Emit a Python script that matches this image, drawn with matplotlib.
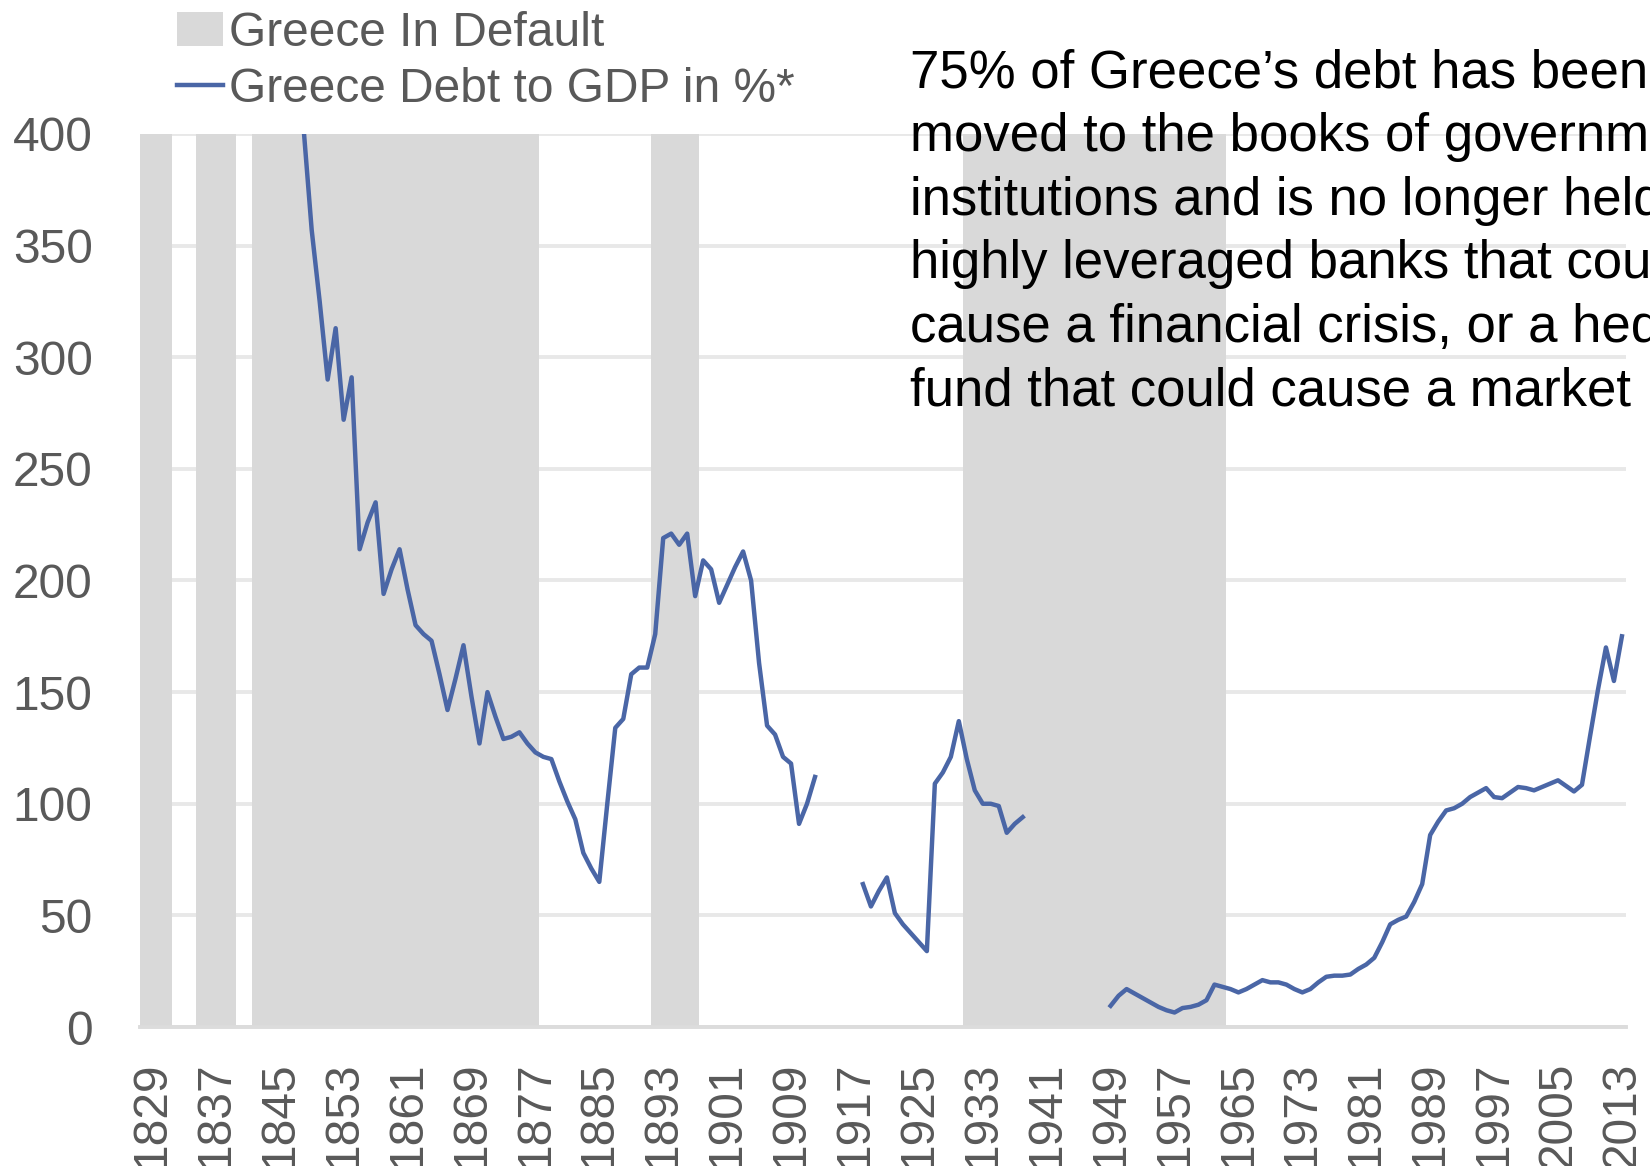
import numpy as np
from matplotlib import pyplot as plt
from matplotlib.patches import Patch
from matplotlib.lines import Line2D

plt.rcParams['font.family'] = ['Liberation Sans', 'DejaVu Sans']

# default periods (first and last year of each)
default_start = [1828, 1835, 1842, 1892, 1931]
default_end = [1831, 1839, 1877, 1897, 1963]

# debt to GDP in %, three unbroken stretches
years_1 = list(range(1848, 1913))
debt_1 = [402, 357, 325, 290, 313, 272, 291, 214, 226, 235,
          194, 205, 214, 196, 180, 176, 173, 158, 142, 156,
          171, 148, 127, 150, 139, 129, 130, 132, 127, 123,
          121, 120, 110, 101, 93, 78, 71, 65, 100, 134,
          138, 158, 161, 161, 176, 219, 221, 216, 221, 193,
          209, 205, 190, 198, 206, 213, 200, 163, 135, 131,
          121, 118, 91, 100, 112]

years_2 = list(range(1918, 1939))
debt_2 = [64, 54, 61, 67, 51, 46, 42, 38, 34, 109,
          114, 121, 137, 120, 106, 100, 100, 99, 87, 91, 94]

years_3 = list(range(1949, 2014))
debt_3 = [9.5, 14, 17, 15, 13, 11, 9, 7.5, 6.5, 8.5,
          9, 10, 12, 19, 18, 17, 15.5, 17, 19, 21,
          20, 20, 19, 17, 15.5, 17, 20, 22.5, 23, 23,
          23.5, 26, 28, 31, 38, 46, 48, 49.5, 56, 64,
          86, 92, 97, 98, 100, 103, 105, 107, 103, 102.5,
          105, 107.5, 107, 106, 107.5, 109, 110.5, 108, 105.5, 108.5,
          130, 151, 170, 155, 175]

ytick_vals = [0, 50, 100, 150, 200, 250, 300, 350, 400]
xtick_years = list(range(1829, 2014, 8))

note = ("75% of Greece\u2019s debt has been\n"
        "moved to the books of government\n"
        "institutions and is no longer held\n"
        "highly leveraged banks that could\n"
        "cause a financial crisis, or a hedge\n"
        "fund that could cause a market")

band_color = '#d9d9d9'
line_color = '#4a66a6'
text_gray = '#595959'

fig = plt.figure(figsize=(16.5, 11.66), dpi=100)
ax = fig.add_axes([0.0848, 0.1192, 0.9006, 0.7659])

for s, e in zip(default_start, default_end):
    ax.axvspan(s - 0.5, e + 0.5, color=band_color, lw=0, zorder=1)

for yrs, vals in [(years_1, debt_1), (years_2, debt_2), (years_3, debt_3)]:
    ax.plot(yrs, vals, color=line_color, lw=3.2, zorder=3)

ax.set_xlim(1827.5, 2013.5)
ax.set_ylim(0, 400)
ax.set_yticks(ytick_vals)
ax.set_xticks(xtick_years)
ax.set_xticklabels([str(y) for y in xtick_years], rotation=90)

ax.grid(axis='y', color='#e8e8e8', lw=2.8, zorder=0)
ax.set_axisbelow(True)
for side in ['top', 'right', 'left']:
    ax.spines[side].set_visible(False)
ax.spines['bottom'].set_color('#dcdcdc')
ax.spines['bottom'].set_linewidth(2.8)

ax.tick_params(axis='both', length=0, labelcolor=text_gray, labelsize=34.5)
ax.tick_params(axis='x', pad=25)
ax.tick_params(axis='y', pad=34)

handles = [Patch(facecolor=band_color, edgecolor='none'),
           Line2D([0], [0], color=line_color, lw=3.2)]
leg = fig.legend(handles, ['Greece In Default', 'Greece Debt to GDP in %*'],
                 loc='upper left', bbox_to_anchor=(177 / 1650, 1 - 11 / 1166),
                 bbox_transform=fig.transFigure, frameon=False,
                 fontsize=34.5, labelspacing=0.22, handlelength=0.96,
                 handletextpad=0.12, borderpad=0, borderaxespad=0)
for t in leg.get_texts():
    t.set_color(text_gray)

# baseline of the last line of the note
fig.text(910 / 1650, 1 - 405 / 1166, note, fontsize=38, color='black',
         ha='left', va='baseline', linespacing=1.345)

fig.savefig('out.png', dpi=100)
